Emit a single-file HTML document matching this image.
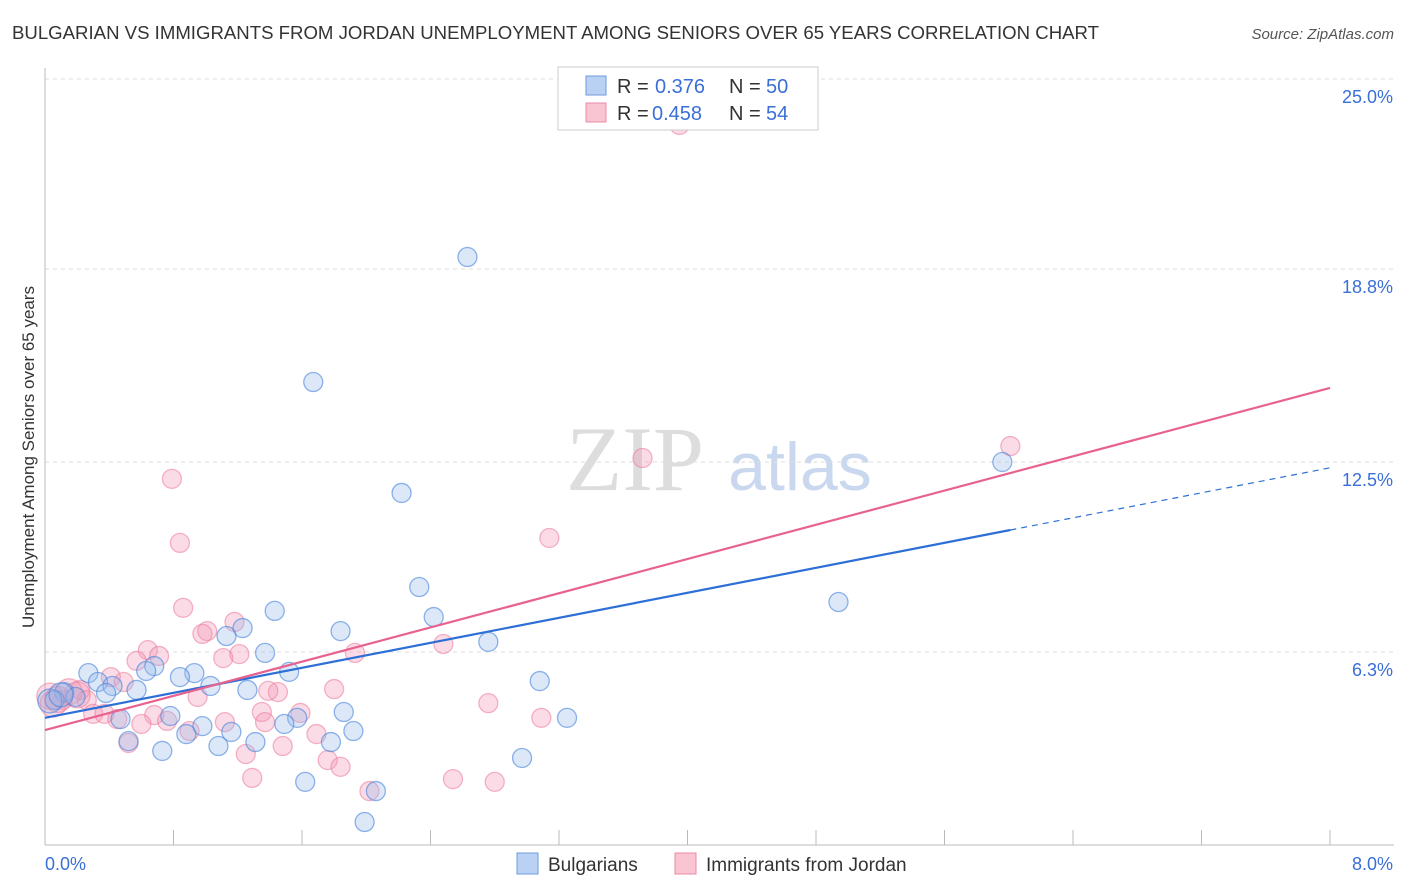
<!DOCTYPE html>
<html><head><meta charset="utf-8"><style>
body{margin:0;background:#fff;font-family:"Liberation Sans",sans-serif;}
svg{display:block}
</style></head><body>
<svg id="chart" width="1406" height="892">
<text x="12" y="39" font-size="18.6" fill="#333" textLength="1087" lengthAdjust="spacingAndGlyphs">BULGARIAN VS IMMIGRANTS FROM JORDAN UNEMPLOYMENT AMONG SENIORS OVER 65 YEARS CORRELATION CHART</text>
<text x="1394" y="39" font-size="15" fill="#555" font-style="italic" text-anchor="end">Source: ZipAtlas.com</text>
<text x="0" y="0" transform="translate(34,457) rotate(-90)" font-size="17" fill="#333" text-anchor="middle">Unemployment Among Seniors over 65 years</text>
<g><text x="635" y="490" font-size="92" fill="#ddd" font-family="Liberation Serif" text-anchor="middle">ZIP</text><text x="800" y="490" font-size="68" fill="#c9d8ee" text-anchor="middle">atlas</text></g>
<g id="grid"></g><g id="axes"></g><g id="pts"></g><g id="lines"></g>
<g>
<rect x="558" y="67" width="260" height="63" fill="#fff" stroke="#ccc"/>
<rect x="586" y="76" width="20" height="19" fill="#b9d1f2" stroke="#6e9be0"/>
<text x="617" y="93" font-size="20" fill="#333">R =</text><text x="655" y="93" font-size="20" fill="#3a6fd8">0.376</text>
<text x="729" y="93" font-size="20" fill="#333">N =</text><text x="766" y="93" font-size="20" fill="#3a6fd8">50</text>
<rect x="586" y="103" width="20" height="19" fill="#f9c5d3" stroke="#ec8aa6"/>
<text x="617" y="120" font-size="20" fill="#333">R =</text><text x="652" y="120" font-size="20" fill="#3a6fd8">0.458</text>
<text x="729" y="120" font-size="20" fill="#333">N =</text><text x="766" y="120" font-size="20" fill="#3a6fd8">54</text>
</g>
<g>
<rect x="517" y="853" width="21" height="21" fill="#b9d1f2" stroke="#6e9be0"/>
<text x="548" y="871" font-size="19" fill="#333">Bulgarians</text>
<rect x="675" y="853" width="21" height="21" fill="#f9c5d3" stroke="#ec8aa6"/>
<text x="706" y="871" font-size="19" fill="#333">Immigrants from Jordan</text>
</g>
</svg>
<script>
const blueX=[2.63,1.67,2.22,5.96,4.94,2.33,2.42,2.76,1.43,1.84,1.23,1.13,1.37,1.52,0.68,0.63,0.27,0.33,0.42,0.38,0.57,0.93,0.84,1.03,1.26,0.12,0.19,0.06,3.08,3.25,1.86,1.57,1.49,1.92,1.78,1.31,1.16,0.98,0.88,0.78,0.52,0.47,0.73,1.08,2.97,1.62,2.06,1.99,0.03,0.1];
const blueY=[19.19,15.11,11.49,12.5,7.93,8.42,7.44,6.63,7.64,6.98,7.08,6.82,6.27,5.65,5.84,5.68,5.61,5.32,5.19,4.96,5.06,5.61,5.48,5.19,5.06,4.99,4.83,4.73,5.35,4.15,4.34,4.15,3.95,3.72,3.36,3.36,3.69,3.88,3.62,4.21,3.39,4.11,3.07,3.23,2.84,2.06,1.76,0.75,4.7,4.9];
const pinkX=[3.95,6.01,3.72,0.79,0.84,3.14,0.86,1.18,1.01,0.98,1.93,2.48,0.64,0.71,1.11,1.21,0.57,0.41,0.49,1.8,1.45,1.39,0.95,0.22,0.11,0.26,2.76,0.3,0.37,0.68,1.59,1.35,0.45,0.76,1.12,1.37,0.6,3.09,1.69,0.9,0.52,1.48,1.25,1.76,1.84,1.29,2.54,2.8,2.02,0.03,0.05,0.15,0.08,0.2];
const pinkY=[23.5,13.02,12.63,11.95,9.86,10.02,7.74,7.28,6.98,6.89,6.27,6.56,6.36,6.17,6.1,6.23,6.01,5.48,5.32,5.09,4.99,5.03,4.83,5.06,4.73,4.73,4.63,4.28,4.28,4.24,4.31,4.34,4.11,4.05,4.01,4.01,3.95,4.15,3.62,3.72,3.33,3.23,2.97,2.77,2.55,2.19,2.15,2.06,1.76,4.86,4.6,5.0,4.75,4.9];
const blueFit=[4.15,1.02]; // intercept, slope
const pinkFit=[3.75,1.396];
const yTicks=[6.3,12.5,18.8,25.0];
const xTickLabels=["0.0%","8.0%"];
const X=v=>45+v/8*1285, Y=v=>845-v/25*766;
const NS="http://www.w3.org/2000/svg";
function mk(p,t,a){const e=document.createElementNS(NS,t);for(const k in a)e.setAttribute(k,a[k]);document.getElementById(p).appendChild(e);return e;}
yTicks.forEach(t=>{
 const l=mk('grid','line',{x1:45,x2:1394,y1:Y(t),y2:Y(t),stroke:'#ddd','stroke-dasharray':'4,4'});
 
 
 const tx=mk('axes','text',{x:1393,y:Y(t)+24,'font-size':18,fill:'#3a6fd8','text-anchor':'end'});tx.textContent=t.toFixed(1)+'%';
 
 
});
mk('axes','line',{x1:45,x2:45,y1:68,y2:845,stroke:'#bbb'});
mk('axes','line',{x1:45,x2:1394,y1:845,y2:845,stroke:'#bbb'});
for(let i=0;i<=10;i++){mk('axes','line',{x1:45+i*128.5,x2:45+i*128.5,y1:830,y2:845,stroke:'#bbb'});}
const t0=mk('axes','text',{x:45,y:870,'font-size':18,fill:'#3a6fd8'});t0.textContent=xTickLabels[0];


const t1=mk('axes','text',{x:1393,y:870,'font-size':18,fill:'#3a6fd8','text-anchor':'end'});t1.textContent=xTickLabels[1];


pinkX.forEach((x,i)=>{const r=i>=49?13:9.5;const c=mk('pts','circle',{cx:X(x),cy:Y(pinkY[i]),r:r,fill:'rgba(244,150,178,0.33)',stroke:'rgba(236,120,155,0.55)','stroke-width':1.3});
 
 });
blueX.forEach((x,i)=>{const r=i>=48?12:9.5;const c=mk('pts','circle',{cx:X(x),cy:Y(blueY[i]),r:r,fill:'rgba(150,185,235,0.33)',stroke:'rgba(70,130,220,0.6)','stroke-width':1.3});
 
 });
const bl=mk('lines','line',{x1:X(0),y1:Y(blueFit[0]),x2:X(6.01),y2:Y(blueFit[0]+blueFit[1]*6.01),stroke:'#2d6fd6','stroke-width':2.2});


const bd=mk('lines','line',{x1:X(6.01),y1:Y(blueFit[0]+blueFit[1]*6.01),x2:X(8),y2:Y(blueFit[0]+blueFit[1]*8),stroke:'#2d6fd6','stroke-width':1.2,'stroke-dasharray':'6,5'});


const pl=mk('lines','line',{x1:X(0),y1:Y(pinkFit[0]),x2:X(8),y2:Y(pinkFit[0]+pinkFit[1]*8),stroke:'#e8628f','stroke-width':2.2});


</script>
</body></html>
